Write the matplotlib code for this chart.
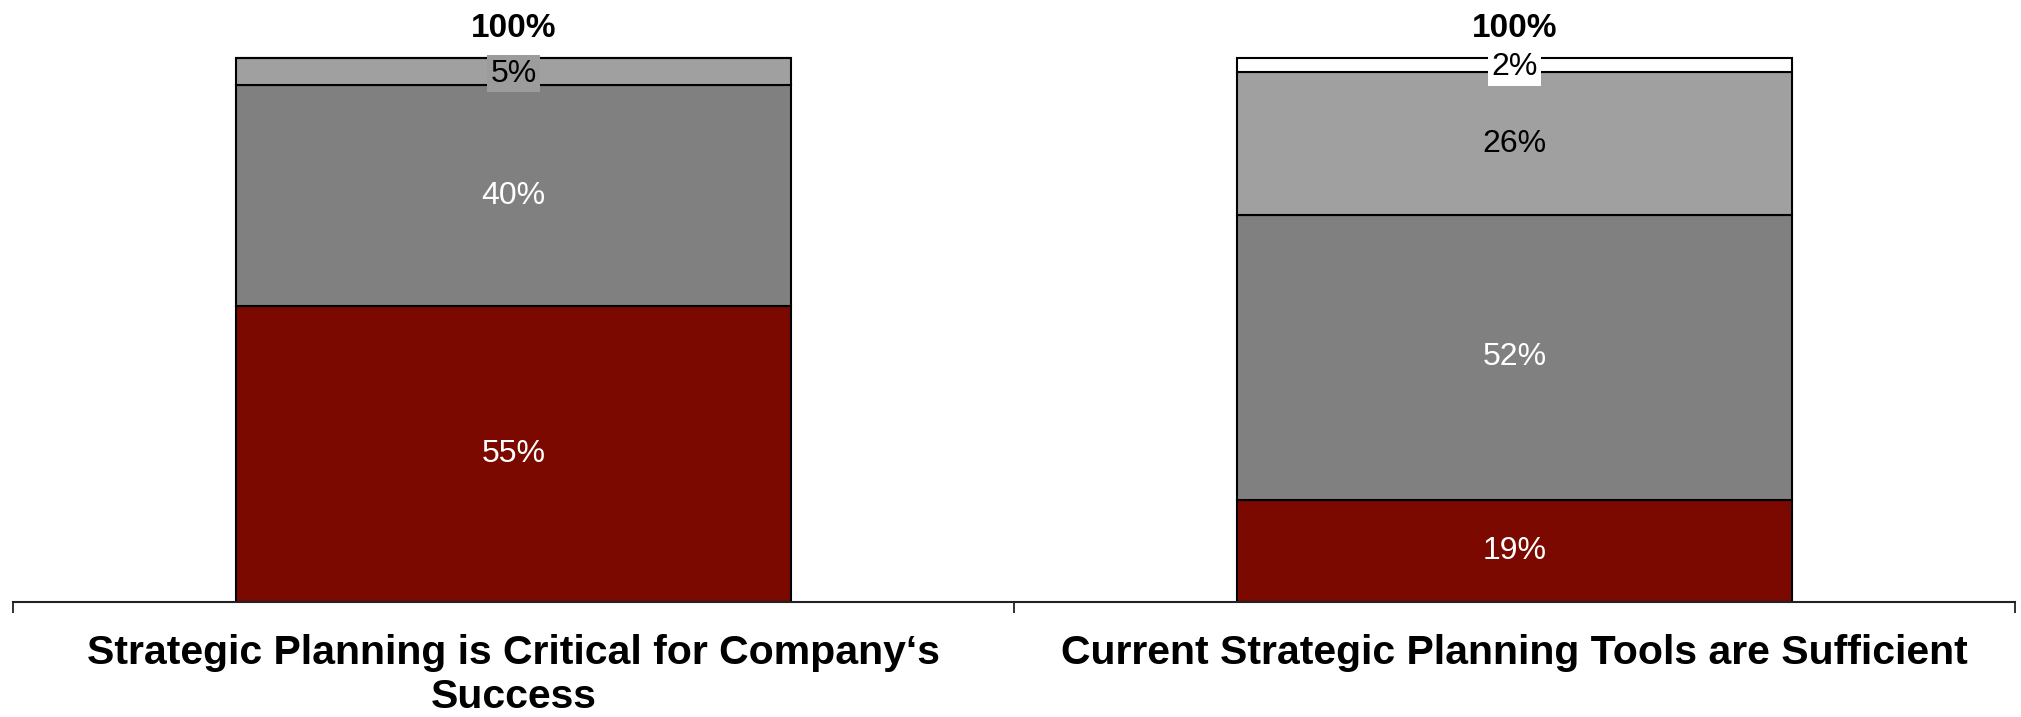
import numpy as np
import matplotlib.pyplot as plt

plt.rcParams['font.family'] = ['Liberation Sans', 'DejaVu Sans']

categories = ["Strategic Planning is Critical for Company\u2018s\nSuccess",
              "Current Strategic Planning Tools are Sufficient"]
# segments bottom -> top, measured heights (%)
seg1 = [54.5, 18.8]
seg2 = [40.5, 52.4]
seg3 = [5.0, 26.2]
seg4 = [0.0, 2.6]
labels1 = ["55%", "19%"]
labels2 = ["40%", "52%"]
labels3 = ["5%", "26%"]
labels4 = [None, "2%"]
totals = ["100%", "100%"]

colors3 = ["#a0a0a0", "#a0a0a0"]
colors4 = ["#a0a0a0", "#ffffff"]

fig = plt.figure(figsize=(20.21, 7.17), dpi=100)
ax = fig.add_axes([13/2021, 115/717, (2015-13)/2021, 602/717])

x = np.arange(len(categories))
w = 0.555
ec = dict(edgecolor="black", linewidth=1.5)

b1 = ax.bar(x, seg1, w, color="#7b0900", **ec)
b2 = ax.bar(x, seg2, w, bottom=seg1, color="#808080", **ec)
bot3 = np.array(seg1) + np.array(seg2)
b3 = ax.bar(x, seg3, w, bottom=bot3, color=colors3, **ec)
bot4 = bot3 + np.array(seg3)
b4 = ax.bar(x, seg4, w, bottom=bot4, color=colors4, **ec)

for i in range(len(x)):
    ax.text(x[i], seg1[i] / 2, labels1[i], ha="center", va="center",
            fontsize=23, color="white")
    ax.text(x[i], seg1[i] + seg2[i] / 2, labels2[i], ha="center", va="center",
            fontsize=23, color="white")

# 26% inside segment (right), 5% / 2% boxed
ax.text(x[1], bot3[1] + seg3[1] / 2, labels3[1], ha="center", va="center",
        fontsize=23, color="black")
ax.text(x[0], bot3[0] + seg3[0] / 2 - 0.4, labels3[0], ha="center", va="center",
        fontsize=23, color="black",
        bbox=dict(facecolor="#9c9c9c", edgecolor="none", pad=2.5))
ax.text(x[1], bot4[1] + seg4[1] / 2 - 0.4, labels4[1], ha="center", va="center",
        fontsize=23, color="black",
        bbox=dict(facecolor="white", edgecolor="none", pad=2.5))

tops = bot4 + np.array(seg4)
for i in range(len(x)):
    ax.annotate(totals[i], (x[i], tops[i]), xytext=(0, 15.5), textcoords="offset points",
                ha="center", va="baseline", fontsize=24, fontweight="bold")

ax.set_xlim(-0.5, 1.5)
ax.set_ylim(0, 110.7)
for s in ["top", "left", "right"]:
    ax.spines[s].set_visible(False)
ax.spines["bottom"].set_linewidth(1.5)
ax.spines["bottom"].set_color("#222222")
ax.set_yticks([])
ax.set_xticks([-0.5, 0.5, 1.5])
ax.set_xticklabels([])
ax.tick_params(axis="x", which="major", length=8, width=1.3, color="#222222")
ax.set_xticks(x, minor=True)
ax.set_xticklabels(categories, minor=True, fontsize=29.5, fontweight="bold",
                   linespacing=1.2)
ax.tick_params(axis="x", which="minor", length=0, pad=23)

fig.savefig("out.png", dpi=100)
